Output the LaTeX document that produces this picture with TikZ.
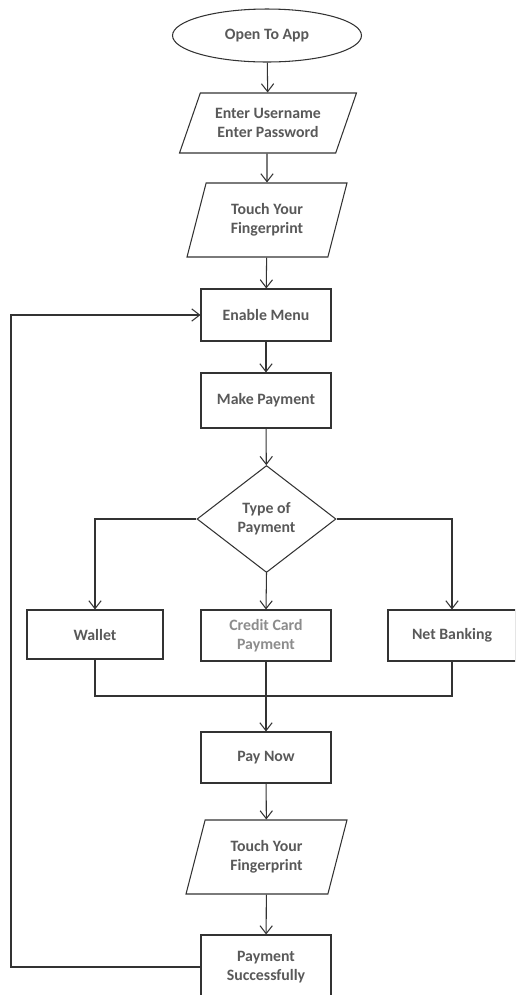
\documentclass[tikz,border=0pt]{standalone}
\usepackage{fontspec}
\setmainfont{Carlito}
\usepackage{tikz}
\usetikzlibrary{shapes.geometric,arrows.meta}

\begin{document}
\begin{tikzpicture}[x=0.02cm,y=-0.02cm,
        every node/.style={font=\fontsize{9}{11}\selectfont\bfseries,text=black!65,align=center},
        box/.style={draw=black!80,line width=0.6pt,rectangle,minimum width=2.6cm,inner sep=0pt},
        io/.style={draw=black!80,line width=0.6pt,trapezium,trapezium left angle=60,
            trapezium right angle=120,trapezium stretches body,inner sep=0pt},
        flow/.style={draw=black!80,line width=0.6pt,-{Straight Barb[length=4.5pt,width=7pt]}},
        mergeline/.style={draw=black!80,line width=0.6pt}]
    \useasboundingbox (0,0) rectangle (515,995);
    \clip (0,0) rectangle (515,995);
    % Top of chart
    \node[draw=black!80,line width=0.6pt,ellipse,minimum width=3.78cm,minimum height=1.06cm,inner sep=0pt]
        (open) at (267,35.5) {Open To App};
    \node[io,trapezium left angle=55,trapezium right angle=125,minimum width=3.54cm,minimum height=1.2cm]
        (login) at (268,123) {Enter Username\\Enter Password};
    \node[io,minimum width=3.2cm,minimum height=1.48cm] (finger) at (267,220) {Touch Your\\Fingerprint};
    \node[box,minimum height=1.04cm] (enable) at (266,315) {Enable Menu};
    \node[box,minimum height=1.1cm] (make) at (266,400.5) {Make Payment};
    % Decision
    \node[draw=black!80,line width=0.6pt,diamond,minimum width=2.78cm,minimum height=2.14cm,inner sep=0pt]
        (type) at (266.5,519) {Type of\\Payment};
    \node[box,minimum width=2.72cm,minimum height=0.98cm] (wallet) at (95,634.5) {Wallet};
    \node[box,minimum height=1.02cm,text=black!45] (credit) at (266,635.5) {Credit Card\\Payment};
    \node[box,minimum width=2.56cm,minimum height=1.02cm] (netbank) at (452,635.5) {Net Banking};
    \coordinate (merge) at (266,696);
    % Bottom of chart
    \node[box,minimum height=1.02cm] (paynow) at (266,757.5) {Pay Now};
    \node[io,minimum width=3.22cm,minimum height=1.48cm] (finger2) at (266.5,857) {Touch Your\\Fingerprint};
    \node[box,minimum height=1.28cm] (success) at (266,967) {Payment\\Successfully};
    \coordinate (loopbot) at (11,967);
    \coordinate (looptop) at (11,315);
    % Connectors
    \draw[flow] (open) -- (login);
    \draw[flow] (login.south -| finger) -- (finger);
    \draw[flow] (finger) -- (enable);
    \draw[flow] (enable) -- (make);
    \draw[flow] (make) -- (type);
    \draw[flow] (type.west) -| (wallet.north);
    \draw[flow] (type.south) -- (credit.north);
    \draw[flow] (type.east) -| (netbank.north);
    \draw[mergeline] (wallet.south) |- (merge);
    \draw[mergeline] (netbank.south) |- (merge);
    \draw[flow] (credit) -- (paynow);
    \draw[flow] (paynow) -- (finger2);
    \draw[flow] (finger2) -- (success);
    \draw[flow] (success.west) -- (loopbot) -- (looptop) -- (enable.west);
\end{tikzpicture}
\end{document}
